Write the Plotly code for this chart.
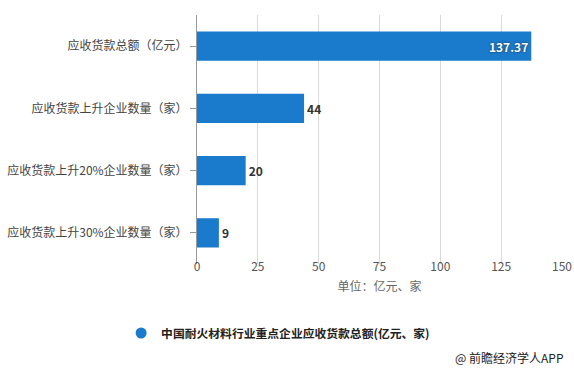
import plotly.graph_objects as go

categories = ["应收货款总额（亿元）", "应收货款上升企业数量（家）", "应收货款上升20%企业数量（家）", "应收货款上升30%企业数量（家）"]
values = [137.37, 44, 20, 9]
labels = ["137.37", "44", "20", "9"]
series_name = "中国耐火材料行业重点企业应收货款总额(亿元、家)"
x_ticks = [0, 25, 50, 75, 100, 125, 150]

BLUE = "#1a7acb"
FONT = "Noto Sans CJK SC"

fig = go.Figure()
fig.add_trace(go.Bar(
    y=categories, x=values, orientation="h",
    marker=dict(color=BLUE, line=dict(width=0)),
    width=0.47,
    text=["<b>%s</b>" % t for t in labels],
    textposition=["inside", "outside", "outside", "outside"],
    insidetextanchor="end",
    textfont=dict(family=FONT, size=12),
    insidetextfont=dict(family=FONT, size=12, color="white", shadow="0px 0px 2px #222"),
    outsidetextfont=dict(family=FONT, size=12, color="#333333", shadow="none"),
    cliponaxis=False,
    showlegend=False,
))
fig.add_trace(go.Scatter(
    x=[None], y=[None], mode="markers", name=series_name,
    marker=dict(color=BLUE, size=11, symbol="circle"),
    showlegend=True,
))

fig.update_layout(
    width=574, height=371,
    margin=dict(l=197, r=12, t=15, b=107, autoexpand=False),
    paper_bgcolor="white", plot_bgcolor="white",
    font=dict(family=FONT, size=12, color="#555555"),
    xaxis=dict(
        range=[0, 150], tickvals=x_ticks, ticktext=[str(v) for v in x_ticks],
        showgrid=True, gridcolor="#d9d9d9", gridwidth=1,
        zeroline=False, showline=False, ticks="",
        ticklabelstandoff=-6, automargin=False, ticklabeloverflow="allow",
        tickfont=dict(size=12, color="#555555"),
        title=dict(text="单位：亿元、家", standoff=9, font=dict(size=12, color="#666666")),
    ),
    yaxis=dict(
        autorange="reversed", automargin=False,
        showline=True, linecolor="#999999", linewidth=1,
        ticks="outside", ticklen=6, tickcolor="#999999",
        tickfont=dict(size=12, color="#444444"),
        showgrid=False,
    ),
    legend=dict(
        orientation="h", xref="container", yref="container",
        x=0.211, y=0.1024, xanchor="left", yanchor="middle",
        font=dict(size=11.8, color="#222222", weight="bold"),
        itemwidth=30,
    ),
    annotations=[dict(
        text="@ 前瞻经济学人APP", xref="paper", yref="paper",
        x=1.011, y=-0.3735, xanchor="right", yanchor="middle",
        showarrow=False, font=dict(size=12, color="#222222"),
    )],
)

fig.write_html(
    "out.html",
    config={"displayModeBar": False},
    post_script="document.body.style.margin='0';document.body.style.overflow='hidden';",
)
